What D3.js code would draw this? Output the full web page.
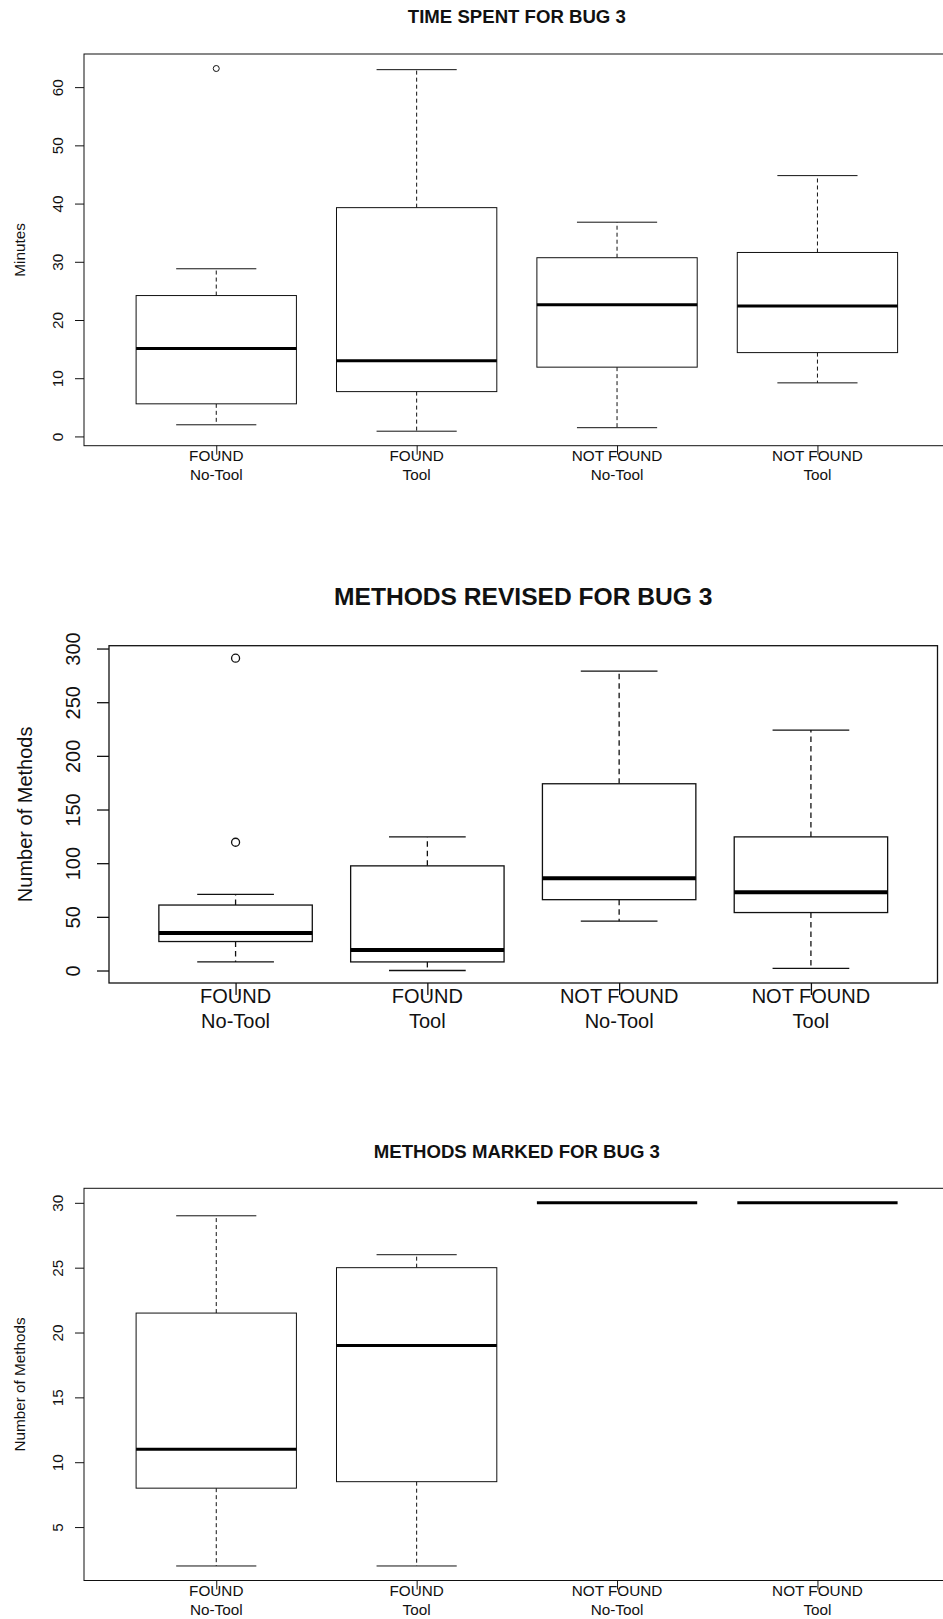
<!DOCTYPE html>
<html>
<head>
<meta charset="utf-8">
<script src="https://cdn.jsdelivr.net/npm/d3@7"></script>
<style>
  html, body { margin: 0; padding: 0; background: #fff; }
  svg { display: block; }
  text { font-family: "Liberation Sans", Arial, sans-serif; fill: #111; }
</style>
</head>
<body>
<svg id="chart" width="943" height="1619"></svg>
<script>
// Groups shown on every panel (two-line category labels)
const groupStatus = ["FOUND", "FOUND", "NOT FOUND", "NOT FOUND"];
const groupCondition = ["No-Tool", "Tool", "No-Tool", "Tool"];

// Time spent (minutes): whisker ends, hinges, medians, outliers
const timeLow = [2.0, 0.9, 1.5, 9.2];
const timeQ1 = [5.6, 7.7, 11.9, 14.4];
const timeMedian = [15.1, 13.0, 22.6, 22.4];
const timeQ3 = [24.2, 39.3, 30.7, 31.6];
const timeHigh = [28.8, 63.0, 36.8, 44.8];
const timeOutliers = [[63.2], [], [], []];
const timeTicks = [0, 10, 20, 30, 40, 50, 60];

// Methods revised
const revisedLow = [8, 0, 46, 2];
const revisedQ1 = [27, 8, 66, 54];
const revisedMedian = [35, 19, 86, 73];
const revisedQ3 = [61, 97.5, 174, 124.5];
const revisedHigh = [71, 124.5, 279, 224];
const revisedOutliers = [[291, 119.5], [], [], []];
const revisedTicks = [0, 50, 100, 150, 200, 250, 300];

// Methods marked
const markedLow = [2, 2, 30, 30];
const markedQ1 = [8, 8.5, 30, 30];
const markedMedian = [11, 19, 30, 30];
const markedQ3 = [21.5, 25, 30, 30];
const markedHigh = [29, 26, 30, 30];
const markedOutliers = [[], [], [], []];
const markedTicks = [5, 10, 15, 20, 25, 30];

const svg = d3.select("#chart");
svg.append("rect").attr("width", 943).attr("height", 1619).attr("fill", "#fff");

function drawPanel(p) {
  const g = svg.append("g");
  const n = groupStatus.length;

  // x: R-style boxplot positions 1..n with 4% padding on each side
  const xPad = 0.04 * n;
  const x = d3.scaleLinear().domain([0.5 - xPad, n + 0.5 + xPad]).range([p.left, p.right]);

  // y: data range padded by 4%
  const allVals = [].concat(p.low, p.high, ...p.outliers);
  const yMin = d3.min(allVals), yMax = d3.max(allVals);
  const yPad = 0.04 * (yMax - yMin);
  const y = d3.scaleLinear().domain([yMin - yPad, yMax + yPad]).range([p.bottom, p.top]);

  const stroke = "#111";

  // title
  g.append("text")
    .attr("x", (p.left + p.right) / 2)
    .attr("y", p.titleBaseline)
    .attr("text-anchor", "middle")
    .attr("font-weight", "bold")
    .attr("font-size", p.titleFont)
    .attr("fill", "#000")
    .text(p.title);

  // y axis
  const yAxis = g.append("g")
    .attr("transform", `translate(${p.left},0)`)
    .call(d3.axisLeft(y).tickValues(p.ticks).tickSize(p.tickLen).tickFormat(d3.format("d")));
  yAxis.select(".domain").remove();
  yAxis.selectAll(".tick line").attr("stroke", stroke).attr("stroke-width", p.lw);
  yAxis.selectAll(".tick text")
    .attr("x", null).attr("dy", null).attr("y", null)
    .attr("text-anchor", "middle")
    .attr("font-size", p.font)
    .attr("font-family", "Liberation Sans, Arial, sans-serif")
    .attr("fill", "#111")
    .attr("transform", `translate(${p.tickLabelX - p.left},0) rotate(-90)`);

  // y axis title
  g.append("text")
    .attr("transform", `translate(${p.yLabelX},${(p.top + p.bottom) / 2}) rotate(-90)`)
    .attr("text-anchor", "middle")
    .attr("font-size", p.font)
    .text(p.yLabel);

  // x axis ticks
  const xAxis = g.append("g")
    .attr("transform", `translate(0,${p.bottom})`)
    .call(d3.axisBottom(x).tickValues(d3.range(1, n + 1)).tickSize(p.tickLen).tickFormat(""));
  xAxis.select(".domain").remove();
  xAxis.selectAll(".tick line").attr("stroke", stroke).attr("stroke-width", p.lw);

  // category labels
  const lab = g.append("g");
  groupStatus.forEach((s, i) => {
    const t = lab.append("text")
      .attr("text-anchor", "middle")
      .attr("font-size", p.font);
    t.append("tspan").attr("x", x(i + 1)).attr("y", p.labelY1).text(s);
    t.append("tspan").attr("x", x(i + 1)).attr("y", p.labelY2).text(groupCondition[i]);
  });

  // plot frame
  g.append("rect")
    .attr("x", p.left).attr("y", p.top)
    .attr("width", p.right - p.left).attr("height", p.bottom - p.top)
    .attr("fill", "none").attr("stroke", stroke).attr("stroke-width", p.lw);

  // boxes
  const boxes = g.append("g");
  d3.range(n).forEach(i => {
    const c = x(i + 1);
    const halfBox = x(1.4) - x(1);
    const halfCap = x(1.2) - x(1);
    const b = boxes.append("g");
    // whiskers (dashed)
    b.append("line").attr("x1", c).attr("x2", c).attr("y1", y(p.q3[i])).attr("y2", y(p.high[i]))
      .attr("stroke", stroke).attr("stroke-width", p.lw).attr("stroke-dasharray", p.dash);
    b.append("line").attr("x1", c).attr("x2", c).attr("y1", y(p.q1[i])).attr("y2", y(p.low[i]))
      .attr("stroke", stroke).attr("stroke-width", p.lw).attr("stroke-dasharray", p.dash);
    // whisker caps
    [p.high[i], p.low[i]].forEach(v => {
      b.append("line").attr("x1", c - halfCap).attr("x2", c + halfCap).attr("y1", y(v)).attr("y2", y(v))
        .attr("stroke", stroke).attr("stroke-width", p.lw);
    });
    // box
    b.append("rect")
      .attr("x", c - halfBox).attr("width", 2 * halfBox)
      .attr("y", y(p.q3[i])).attr("height", y(p.q1[i]) - y(p.q3[i]))
      .attr("fill", "#fff").attr("stroke", stroke).attr("stroke-width", p.lw);
    // median
    b.append("line").attr("x1", c - halfBox).attr("x2", c + halfBox)
      .attr("y1", y(p.med[i])).attr("y2", y(p.med[i]))
      .attr("stroke", "#000").attr("stroke-width", p.medLw);
    // outliers
    p.outliers[i].forEach(v => {
      b.append("circle").attr("cx", c).attr("cy", y(v)).attr("r", p.pointR)
        .attr("fill", "none").attr("stroke", stroke).attr("stroke-width", p.lw);
    });
  });
}

drawPanel({
  title: "TIME SPENT FOR BUG 3", yLabel: "Minutes", ticks: timeTicks,
  low: timeLow, q1: timeQ1, med: timeMedian, q3: timeQ3, high: timeHigh, outliers: timeOutliers,
  top: 54, bottom: 445.7, left: 84, right: 949.7,
  font: 15.3, titleFont: 18.6, titleBaseline: 22.7,
  tickLen: 9, tickLabelX: 62.5, yLabelX: 25,
  labelY1: 461.2, labelY2: 480.2,
  lw: 1, medLw: 3, dash: "4,3", pointR: 3
});

drawPanel({
  title: "METHODS REVISED FOR BUG 3", yLabel: "Number of Methods", ticks: revisedTicks,
  low: revisedLow, q1: revisedQ1, med: revisedMedian, q3: revisedQ3, high: revisedHigh, outliers: revisedOutliers,
  top: 645.7, bottom: 983, left: 109, right: 937.5,
  font: 20, titleFont: 24.6, titleBaseline: 605,
  tickLen: 12, tickLabelX: 80, yLabelX: 31.5,
  labelY1: 1003.2, labelY2: 1027.5,
  lw: 1.3, medLw: 4, dash: "5.5,4", pointR: 4
});

drawPanel({
  title: "METHODS MARKED FOR BUG 3", yLabel: "Number of Methods", ticks: markedTicks,
  low: markedLow, q1: markedQ1, med: markedMedian, q3: markedQ3, high: markedHigh, outliers: markedOutliers,
  top: 1188.3, bottom: 1580.5, left: 84, right: 949.7,
  font: 15.3, titleFont: 18.6, titleBaseline: 1157.7,
  tickLen: 9, tickLabelX: 62.5, yLabelX: 25,
  labelY1: 1596, labelY2: 1615,
  lw: 1, medLw: 3, dash: "4,3", pointR: 3
});
</script>
</body>
</html>
